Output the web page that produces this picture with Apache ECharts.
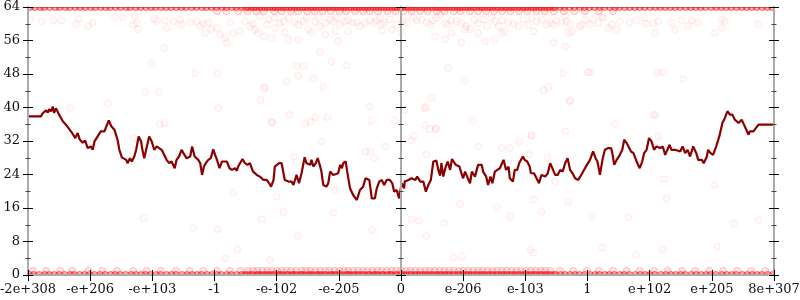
<!DOCTYPE html>
<html><head><meta charset="utf-8">
<script src="https://cdn.jsdelivr.net/npm/echarts@6/dist/echarts.min.js"></script>
<style>html,body{margin:0;padding:0;background:#fff}#c{width:800px;height:300px}</style>
</head><body><div id="c"></div>
<script>
// x axis: ordinal position of a double, 100 units between labelled ticks
const xTickLabels = ['-2e+308','-e+206','-e+103','-1','-e-102','-e-205','0','e-206','e-103','1','e+102','e+205','8e+307'];
const xMin = -600, xMax = 600, xStep = 100;
const yMin = 0, yMax = 64, yStep = 8;

// running mean (dark red line)
const meanLine = [
[-600,37.9],[-579,37.9],[-577,38.5],[-574,38.7],[-571,39.3],[-568,38.8],[-566,39.6],[-563,39.1],[-560,40.2],[-558,38.7],[-555,39.8],[-552,39.8],[-550,38.3],[-544,36.7],[-539,35.9],[-533,34.7],[-529,33.9],[-527,34.3],[-524,32.7],[-520,33.9],[-517,32.4],[-512,31.6],[-508,32.1],[-504,30.3],[-501,29.9],[-499,30.7],[-496,29.9],[-493,31.9],[-491,31.5],[-488,33.1],[-483,34.3],[-477,34.3],[-475,35.1],[-470,36.9],[-466,35.5],[-464,35.9],[-461,34.7],[-458,34.3],[-456,32.3],[-453,29.9],[-449,28.1],[-442,27.5],[-440,26.7],[-436,27.9],[-433,27.1],[-429,28.3],[-426,29.9],[-422,33.1],[-418,31.9],[-416,29.9],[-413,27.9],[-410,27.9],[-407,31.9],[-405,33.1],[-401,31.9],[-397,29.9],
[-393,30.7],[-390,31.1],[-385,29.9],[-383,30.3],[-381,28.7],[-377,27.5],[-373,26.7],[-369,27.1],[-364,25.5],[-361,27.5],[-357,28.3],[-353,29.9],[-350,29.1],[-347,29.5],[-345,27.9],[-339,28.3],[-336,30.7],[-332,28.3],[-326,27.5],[-323,26.7],[-320,23.9],[-317,25.9],[-314,26.7],[-310,27.5],[-306,27.9],[-302,30.0],[-299,28.7],[-296,27.5],[-292,25.5],[-288,27.1],[-280,27.1],[-276,25.5],[-272,25.1],[-267,25.5],[-264,24.9],[-262,25.9],[-259,25.5],[-255,27.7],[-251,26.7],[-247,26.3],[-243,26.7],[-238,24.7],[-232,23.9],[-227,23.5],[-221,22.7],[-216,22.7],[-212,21.9],[-209,21.1],[-205,22.7],[-203,25.9],[-200,26.3],[-196,26.7],
[-192,26.7],[-187,22.7],[-181,22.3],[-176,22.3],[-173,21.5],[-168,23.9],[-164,21.9],[-160,24.3],[-155,28.1],[-152,26.7],[-146,26.3],[-144,27.5],[-141,25.9],[-137,26.7],[-134,27.9],[-130,25.9],[-128,24.7],[-125,21.5],[-120,21.1],[-117,21.9],[-114,24.7],[-112,25.1],[-109,23.9],[-106,24.3],[-101,24.3],[-98,26.3],[-95,25.5],[-93,26.7],[-89,27.1],[-87,25.1],[-82,20.7],[-77,19.1],[-71,17.9],[-66,20.3],[-61,21.1],[-57,23.1],[-51,22.7],[-47,18.3],[-42,18.3],[-39,20.7],[-35,22.3],[-31,22.7],[-27,21.5],[-23,22.7],[-18,22.7],[-14,21.9],[-11,19.9],[-7,20.3],[-3,18.3],[1,21.9],[5,20.7],
[6,22.3],[12,22.7],[17,23.1],[23,22.7],[26,23.5],[31,22.3],[36,22.3],[40,19.9],[44,21.5],[48,22.7],[52,27.1],[57,27.3],[60,25.1],[63,23.7],[65,26.7],[68,23.5],[72,25.9],[75,27.1],[79,25.1],[82,27.7],[85,27.9],[88,26.3],[94,25.9],[98,23.9],[100,23.1],[103,24.7],[106,24.7],[111,21.9],[114,24.7],[116,25.1],[119,23.5],[124,26.3],[130,26.3],[132,24.7],[137,23.5],[140,21.5],[144,23.5],[147,21.9],[151,24.7],[155,25.1],[159,25.5],[165,27.5],[169,25.1],[173,25.9],[175,23.1],[180,22.3],[183,25.1],[187,25.1],[190,26.7],[196,28.3],[199,27.5],[203,27.1],[207,25.9],
[209,24.3],[214,24.3],[218,23.1],[222,21.9],[226,23.9],[232,23.5],[236,24.3],[240,26.7],[243,26.3],[248,23.9],[252,23.9],[256,25.1],[260,24.7],[264,26.7],[268,27.9],[272,25.1],[276,24.3],[280,23.1],[285,22.7],[290,23.9],[293,24.7],[299,26.3],[304,27.5],[309,29.5],[313,27.9],[316,27.1],[320,23.9],[324,27.5],[328,29.9],[333,30.3],[338,30.3],[340,29.1],[343,26.3],[347,27.5],[352,28.7],[356,29.9],[359,32.3],[363,31.5],[366,31.5],[370,29.5],[374,29.1],[379,27.1],[384,25.5],[388,27.1],[391,29.1],[395,29.9],[399,32.7],[403,31.9],[407,29.9],
[409,29.5],[411,30.7],[417,30.3],[421,30.7],[425,28.7],[428,29.1],[432,31.1],[435,29.9],[441,29.9],[444,29.5],[449,29.5],[453,30.7],[457,29.1],[461,29.9],[465,28.3],[470,30.7],[475,29.1],[478,27.5],[484,27.5],[487,26.7],[492,28.3],[494,29.9],[498,29.1],[502,28.7],[507,30.7],[512,33.1],[517,36.3],[521,37.5],[525,39.1],[529,38.3],[533,38.3],[537,37.1],[543,36.3],[548,37.1],[553,35.5],[559,33.5],[561,34.3],[567,34.3],[575,35.9],[600,35.9]
];

// individual samples (faint red circles)
const top64X = [-597,-589,-580,-574,-565,-556,-549,-540,-533,-524,-516,-508,-499,-492,-483,-475,-468,-459,-451,-442,-436,-427,-419,-410,-402,-395,-386,-378,-370,-361,-353,-346,-337,-329,-320,-313,-305,-297,-288,-281,-272,-265,-257,
-250,-246,-241,-237,-233,-228,-224,-219,-215,-211,-206,-202,-198,-193,-189,-185,-180,-176,-171,-167,-163,-158,-154,-150,-145,-141,-137,-132,-128,-123,-119,-115,-110,-106,-102,-97,-93,-89,-84,-80,-75,-71,-67,-62,-58,-54,-49,-45,-40,-36,-32,-27,-23,-19,-14,-10,-6,-1,3,7,12,16,21,25,29,34,38,42,47,51,56,60,64,69,73,77,82,86,91,95,99,104,108,112,117,121,126,130,134,139,143,147,152,156,161,165,169,174,178,182,187,191,196,200,204,209,213,217,222,226,231,235,239,244,248,
256,263,271,279,288,295,303,311,320,327,336,344,351,360,368,376,384,392,401,409,417,425,433,441,449,458,466,474,482,490,499,507,515,523,531,540,548,556,564,572,581,589,597];
const top63X = [-296,-281,-262,-247,-233,-221,-204,-192,-177,-166,-151,-139,-126,-113,-99,-88,-74,-61,-50,-37,-22,-9,4,17,31,43,58,70,85,96,111,124,137,150,163,176,190,203,218,231,246,262,279,296,318,341];
const bottom0X = [-598,-591,-582,-573,-566,-558,-550,-541,-532,-526,-517,-509,-501,-493,-484,-476,-467,-460,-452,-443,-434,-426,-418,-411,-403,-394,-387,-377,-369,-362,-352,-344,-336,-328,-321,-312,-304,-296,-289,-280,-273,-264,-256,
-251,-247,-242,-238,-232,-229,-225,-220,-216,-212,-207,-203,-197,-194,-190,-184,-181,-175,-172,-168,-162,-159,-155,-149,-146,-142,-136,-133,-129,-124,-120,-114,-111,-107,-103,-98,-94,-88,-85,-81,-76,-72,-68,-63,-59,-53,-50,-44,-41,-37,-31,-28,-22,-18,-15,-9,-5,0,4,8,13,17,22,26,30,35,39,43,48,52,57,61,65,70,74,78,83,87,92,96,100,105,109,113,118,122,127,131,135,140,144,148,153,157,162,166,170,175,179,183,188,192,197,201,205,210,214,218,223,227,232,236,240,245,249,
257,264,272,280,287,296,304,312,319,328,335,343,352,359,367,377,385,393,400,408,418,426,434,442,450,457,467,475,483,491,498,506,516,524,532,539,549,557,565,573,580,590,598];
const bottom1X = [-592,-571,-548,-529,-503,-481,-457,-431,-409,-386,-362,-340,-318,-296,-275,-258,
-246,-238,-231,-223,-215,-208,-199,-192,-184,-177,-169,-160,-153,-146,-138,-130,-122,-115,-107,-99,-92,-85,-77,-69,-61,-54,-46,-38,-31,-23,-15,-8,0,8,15,23,31,39,46,54,62,70,77,85,93,100,108,116,124,131,139,147,155,162,170,178,186,193,201,209,217,225,232,240,
256,277,299,318,341,363,384,407,429,452,473,496,518,541,563,586];
const cloudPoints = [
[-597,61.0],[-578,60.6],[-559,60.8],[-546,60.8],[-519,61.1],[-522,60.0],[-503,59.4],[-496,60.3],[-460,61.6],[-447,61.6],[-428,61.8],[-431,59.8],[-425,60.2],[-423,58.7],[-397,61.1],[-393,60.6],[-380,60.8],[-377,59.0],[-366,60.6],[-355,61.0],[-353,59.8],[-339,60.3],[-329,60.6],[-323,59.4],[-318,60.0],[-315,57.8],[-310,60.3],[-305,58.7],[-296,59.0],[-291,57.4],[-283,56.6],[-280,55.4],[-275,60.3],[-270,57.8],[-259,58.2],[-251,60.6],[-243,59.4],[-238,60.0],[-235,58.6],[-230,57.8],[-227,61.8],[-221,57.0],[-216,59.8],
[-213,61.0],[-203,61.4],[-195,60.2],[-189,60.6],[-181,61.4],[-171,60.2],[-165,59.8],[-157,60.6],[-152,61.4],[-149,58.7],[-138,60.6],[-133,61.4],[-130,59.4],[-122,60.2],[-114,61.0],[-109,60.6],[-104,61.4],[-98,59.8],[-90,60.6],[-85,60.8],[-78,60.2],[-71,60.3],[-66,59.4],[-58,60.2],[-50,60.8],[-44,60.2],[-39,60.8],[-34,61.4],[-31,59.8],[-26,60.3],[-18,61.0],[-15,58.6],[-7,59.8],[3,60.6],[9,60.3],[20,61.4],[25,60.8],[33,61.0],[41,60.3],[47,59.8],[52,60.8],[57,61.4],[63,62.2],[71,60.2],[75,59.8],[81,60.8],[89,60.6],[97,60.2],[105,59.4],[111,58.7],[118,61.0],[124,60.0],[132,61.0],[138,59.5],[145,61.4],[151,60.6],[157,59.4],[163,60.8],[167,58.2],[172,60.2],[181,60.0],[189,59.4],[197,61.0],[205,59.8],
[-203,59.0],[-187,57.9],[-144,57.9],[-122,57.4],[-106,58.2],[-85,58.2],[-31,58.4],[1,57.9],[55,57.0],[71,56.3],[81,57.8],[103,58.6],[124,57.8],
[210,61.4],[218,60.6],[226,61.0],[234,59.8],[240,60.3],[245,59.8],[250,60.8],[258,60.2],[264,61.8],[266,60.6],[272,60.0],[275,58.2],[269,57.8],[288,59.4],[291,59.8],[296,61.0],[304,59.8],[309,61.0],[317,60.2],[323,61.8],[325,61.4],[334,59.0],[339,59.8],[347,58.6],[352,60.6],[368,60.3],[379,60.8],[392,61.4],[395,60.0],[406,60.2],[409,57.8],[414,60.6],[435,60.3],[441,58.6],[451,60.8],[462,59.5],[468,60.8],[478,60.3],[505,57.8],[516,61.0],[521,60.6],[516,59.0],[575,59.8],[213,58.2]
];
const sparsePoints = [
[-401,50.6],[-380,54.2],[-331,48.2],[-296,48.2],[-412,43.8],[-389,43.8],[-220,44.6],[-226,41.8],[-294,39.8],[-388,35.9],[-380,36.3],[-471,41.0],[-532,39.8],
[-130,53.4],[-112,51.0],[-168,50.0],[-157,49.8],[-87,50.0],[-184,46.2],[-165,47.6],[-141,47.0],[-125,44.9],[-219,44.9],[76,49.4],[102,46.4],[49,42.2],[-51,40.2],[38,39.8],[-179,38.2],[-208,36.6],[-154,36.2],[-145,36.6],[-138,37.7],[-118,37.7],[-48,36.9],[6,39.4],[20,33.2],[38,35.8],[56,35.0],[-129,31.9],[-26,30.7],[124,30.7],[162,30.3],[175,30.3],[191,31.9],[210,33.2],[115,36.9],[97,55.5],[135,55.8],[151,56.3],[162,57.8],[-208,56.6],[-181,56.2],[-165,56.2],[-101,55.8],
[245,55.4],[264,54.6],[261,48.2],[301,48.4],[304,48.4],[412,48.2],[422,48.4],[454,46.8],[229,44.1],[237,44.9],[272,41.8],[409,38.2],[344,36.1],[210,33.5],[264,34.3],[414,33.1],
[-270,19.7],[-414,13.5],[-334,11.2],[-295,11.0],[-224,13.3],[-263,6.1],[-283,4.0],[-189,15.1],[-109,14.9],[-47,10.7],[-166,9.3],[-211,3.6],[17,13.3],[29,13.0],[41,9.3],[70,12.4],[97,4.4],[84,4.2],[175,13.9],[213,5.3],[-106,20.3],[213,18.1],[269,17.5],[226,15.1],[307,13.9],[366,13.8],[423,22.9],[427,18.3],[505,21.5],[535,12.3],[575,13.0],[324,6.6],[379,4.8],[421,6.1],[508,6.8],[208,6.1],[248,22.3],
[-429,32.7],[-208,36.4],[-200,18.7],[-10,36.9],[-57,29.5],[-50,29.5],[-43,27.9],[-172,28.3],[46,34.8],[56,34.8],[17,32.1],[205,28.7],[41,28.7],[95,17.0],[154,16.2],[40,40.1],[272,41.4],[406,38.2],[236,28.1]
];

// samples stacked many times over at the extremes (0 and 64)
const extremeSamples = [].concat(top64X.map(x => [x, 64]), bottom0X.map(x => [x, 0]));
const nearExtremeSamples = [].concat(top63X.map(x => [x, 63]), bottom1X.map(x => [x, 1]));
const spreadSamples = [].concat(cloudPoints, sparsePoints);

const G = {left: 28, right: 26, top: 7, bottom: 25};
const W = 800, H = 300;
const FONT = 'DejaVu Serif';
const AX_GRAY = '#ababab';

function xAx(o) {
  return Object.assign({
    type: 'value', min: xMin, max: xMax, interval: xStep, position: 'bottom', z: 10,
    splitLine: {show: false},
    axisLine: {show: false, onZero: false},
    axisTick: {show: false},
    axisLabel: {show: false}
  }, o);
}
function yAx(o) {
  return Object.assign({
    type: 'value', min: yMin, max: yMax, interval: yStep, position: 'left', z: 10,
    splitLine: {show: false}, minorSplitLine: {show: false},
    axisLine: {show: false, onZero: false},
    axisTick: {show: true, inside: false, length: 5, lineStyle: {color: '#000', width: 1}},
    minorTick: {show: true, splitNumber: 2, length: 2.5, lineStyle: {color: '#444', width: 1}},
    axisLabel: {show: false}
  }, o);
}
const lineOn = {show: true, onZero: false, lineStyle: {color: AX_GRAY, width: 2}};
const sampleSeries = (data, fillA, strokeA) => ({
  type: 'scatter', xAxisIndex: 0, yAxisIndex: 0, z: 2, data: data, symbol: 'circle', symbolSize: 7,
  itemStyle: {color: 'rgba(255,0,0,' + fillA + ')', borderColor: 'rgba(255,0,0,' + strokeA + ')', borderWidth: 1, opacity: 1},
  emphasis: {disabled: true}, silent: true
});

const option = {
  animation: false,
  backgroundColor: '#fff',
  grid: {left: G.left, right: G.right, top: G.top, bottom: G.bottom, containLabel: false, outerBoundsMode: 'none'},
  xAxis: [
    xAx({axisLine: lineOn,
         axisTick: {show: true, inside: false, length: 6, lineStyle: {color: '#000', width: 1}},
         axisLabel: {show: true, margin: 8, color: '#111', fontFamily: FONT, fontSize: 13,
                     showMinLabel: true, showMaxLabel: true,
                     formatter: v => xTickLabels[Math.round((v - xMin) / xStep)]}}),
    xAx({axisTick: {show: true, inside: true, length: 5, lineStyle: {color: '#000', width: 1}}}),
    xAx({position: 'top', z: 1, axisLine: {show: true, onZero: false, lineStyle: {color: '#9a9a9a', width: 2}}})
  ],
  yAxis: [
    yAx({axisLine: lineOn,
         axisLabel: {show: true, margin: 8, color: '#111', fontFamily: FONT, fontSize: 13,
                     showMinLabel: true, showMaxLabel: true}}),
    yAx({axisTick: {show: true, inside: true, length: 5, lineStyle: {color: '#000', width: 1}}}),
    yAx({position: 'right', axisLine: lineOn}),
    yAx({position: 'right', axisTick: {show: true, inside: true, length: 5, lineStyle: {color: '#000', width: 1}}}),
    yAx({axisLine: {show: true, onZero: true, onZeroAxisIndex: 0, lineStyle: {color: AX_GRAY, width: 2}}}),
    yAx({axisLine: {show: false, onZero: true, onZeroAxisIndex: 0},
         axisTick: {show: true, inside: true, length: 5, lineStyle: {color: '#000', width: 1}}})
  ],
  graphic: [
    {type: 'rect', z: 3, silent: true, shape: {x: 0, y: 0, width: W, height: G.top}, style: {fill: '#fff'}},
    {type: 'rect', z: 3, silent: true, shape: {x: 0, y: H - G.bottom, width: W, height: G.bottom}, style: {fill: '#fff'}},
    {type: 'rect', z: 3, silent: true, shape: {x: 0, y: 0, width: G.left, height: H}, style: {fill: '#fff'}},
    {type: 'rect', z: 3, silent: true, shape: {x: W - G.right, y: 0, width: G.right, height: H}, style: {fill: '#fff'}}
  ],
  series: [
    sampleSeries(spreadSamples, 0.025, 0.07),
    sampleSeries(nearExtremeSamples, 0.09, 0.2),
    sampleSeries(extremeSamples, 0.3, 0.5),
    {type: 'line', xAxisIndex: 0, yAxisIndex: 0, z: 5, data: meanLine, showSymbol: false, symbol: 'none',
     lineStyle: {color: '#8b0000', width: 2.2}, emphasis: {disabled: true}, silent: true}
  ]
};
const chart = echarts.init(document.getElementById('c'), null, {renderer: 'canvas'});
chart.setOption(option);
</script></body></html>
